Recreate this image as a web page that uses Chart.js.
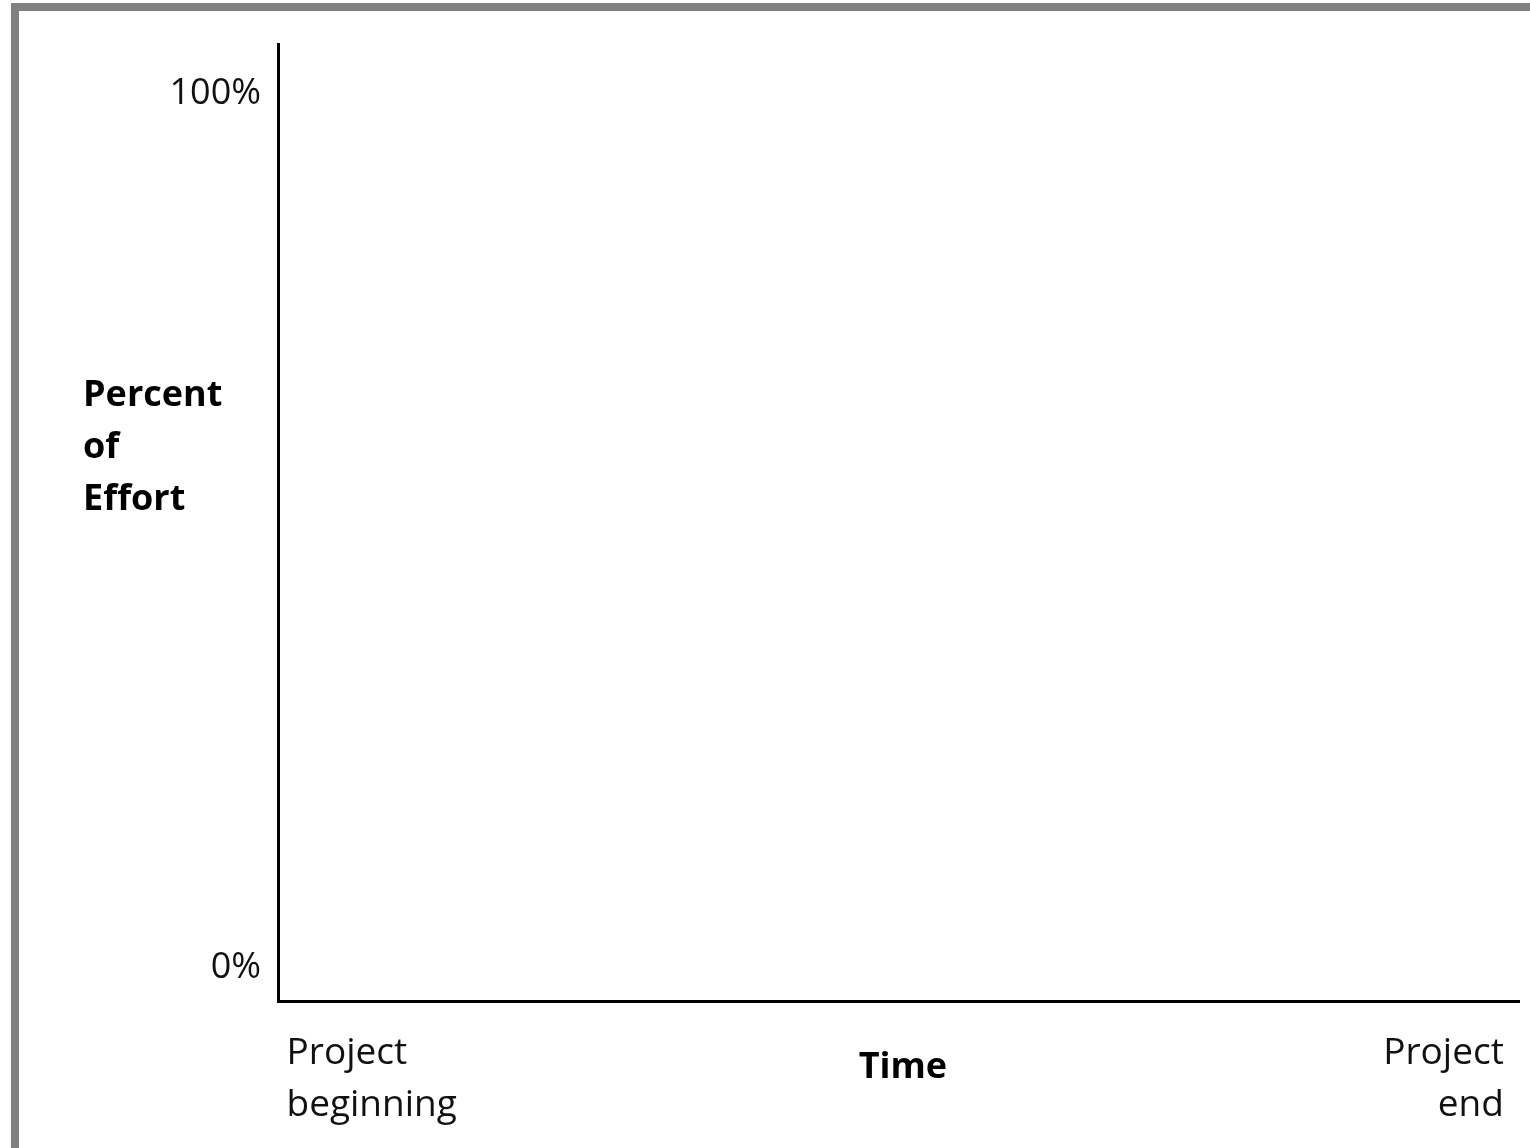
<!DOCTYPE html>
<html>
<head>
<meta charset="utf-8">
<script src="https://cdn.jsdelivr.net/npm/chart.js@4.4.0/dist/chart.umd.min.js"></script>
<style>
    html, body { margin: 0; padding: 0; background: #fff; overflow: hidden; }
    #frame {
        position: absolute; left: 11px; top: 3px;
        width: 1700px; height: 1300px;
        border-left: 8px solid #808080; border-top: 8px solid #808080;
    }
    #wrap { position: absolute; left: 0; top: 0; width: 1530px; height: 1148px; }
</style>
</head>
<body>
<div id="frame"></div>
<div id="wrap"><canvas id="effortChart"></canvas></div>
<script>
// Chart data (empty template: only axes and labels)
const xTickValues = [0, 100];
const xTickLabels = [['Project', 'beginning'], ['Project', 'end']];
const yTickValues = [0, 100];
const xTitle = 'Time';
const yTitle = ['Percent', 'of', 'Effort'];
const seriesValues = [];

const FONT = 'Open Sans';

// Draws the two horizontal axis titles
const axisTitles = {
    id: 'axisTitles',
    afterDraw(chart) {
        const ctx = chart.ctx;
        const area = chart.chartArea;
        ctx.save();
        ctx.fillStyle = '#000';
        ctx.font = 'bold 36px "' + FONT + '"';
        ctx.textBaseline = 'alphabetic';

        // y title, left aligned, three lines
        ctx.textAlign = 'left';
        for (let i = 0; i < yTitle.length; i++) {
            ctx.fillText(yTitle[i], 83, area.top + 362 + i * 52);
        }

        // x title, centred under the axis
        ctx.textAlign = 'center';
        ctx.fillText(xTitle, (area.left + area.right) / 2 + 4, area.bottom + 77);
        ctx.restore();
    }
};

const ctx = document.getElementById('effortChart').getContext('2d');

new Chart(ctx, {
    type: 'line',
    data: {
        datasets: [{
            data: seriesValues,
            borderColor: '#000',
            pointRadius: 0
        }]
    },
    options: {
        responsive: true,
        maintainAspectRatio: false,
        animation: false,
        layout: {
            padding: { top: 44, right: 9, left: 0, bottom: 0 }
        },
        plugins: {
            legend: { display: false },
            tooltip: { enabled: false }
        },
        scales: {
            x: {
                type: 'linear',
                min: -0.7,
                max: 101.3,
                afterBuildTicks: function(scale) {
                    scale.ticks = xTickValues.map(v => ({ value: v }));
                },
                afterFit: function(scale) {
                    scale.height = 147;
                },
                grid: { display: false, drawTicks: false },
                border: { display: true, color: '#000', width: 3 },
                ticks: {
                    align: 'inner',
                    maxRotation: 0,
                    autoSkip: false,
                    padding: 26,
                    color: '#111',
                    font: { size: 37, family: FONT, lineHeight: 1.405 },
                    callback: function(value, index) {
                        return xTickLabels[index];
                    }
                }
            },
            y: {
                type: 'linear',
                min: -3.78,
                max: 105.72,
                afterBuildTicks: function(scale) {
                    scale.ticks = yTickValues.map(v => ({ value: v }));
                },
                afterFit: function(scale) {
                    scale.width = 278;
                },
                grid: { display: false, drawTicks: false },
                border: { display: true, color: '#000', width: 3 },
                ticks: {
                    padding: 17,
                    color: '#111',
                    font: { size: 36, family: FONT },
                    callback: function(value) {
                        return value + '%';
                    }
                }
            }
        }
    },
    plugins: [axisTitles]
});
</script>
</body>
</html>
